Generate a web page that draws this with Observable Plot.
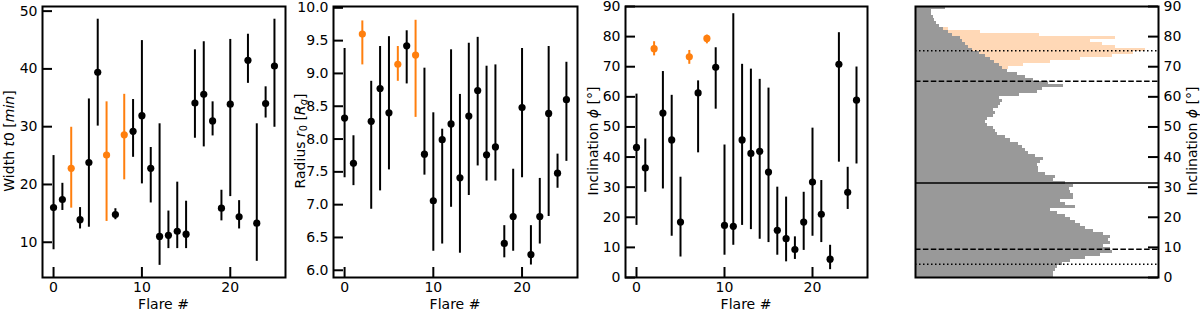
<!DOCTYPE html>
<html><head><meta charset="utf-8">
<script src="https://cdn.jsdelivr.net/npm/d3@7"></script>
<script src="https://cdn.jsdelivr.net/npm/@observablehq/plot@0.6"></script>
<style>
body{margin:0;background:#fff;}
#c{position:relative;width:1200px;height:311px;font-family:"DejaVu Sans",sans-serif;font-size:14px;color:#000;overflow:hidden;}
.p{position:absolute;top:0;}
.yl{position:absolute;white-space:nowrap;transform:translate(-50%,-50%) rotate(-90deg);font-size:14px;line-height:1;}
.xl{position:absolute;white-space:nowrap;transform:translate(-50%,-50%);font-size:14px;line-height:1;}
sub{font-size:70%;vertical-align:-0.25em;line-height:0;}
</style></head><body><div id="c"></div>
<script>
// ---- data ----
const flares = [0,1,2,3,4,5,6,7,8,9,10,11,12,13,14,15,16,17,18,19,20,21,22,23,24,25];
const highlighted = [2,6,8];

const widthVal = [16.0,17.4,22.8,13.9,23.8,39.4,25.1,14.8,28.6,29.2,31.9,22.8,11.0,11.2,11.9,11.4,34.1,35.6,31.0,15.9,33.9,14.4,41.5,13.3,34.0,40.5];
const widthLo  = [8.7,15.5,15.9,12.3,12.6,30.1,13.6,13.9,20.8,24.7,20.1,16.8,6.0,8.9,8.9,8.9,28.0,26.5,28.4,13.7,17.9,12.3,37.5,6.7,31.5,29.9];
const widthHi  = [25.0,20.2,29.9,16.0,34.8,48.6,34.3,15.8,35.6,34.7,44.9,26.4,30.5,15.4,20.4,17.1,43.3,44.7,34.3,19.0,45.1,17.2,46.0,30.5,36.9,48.6];

const radiusVal = [8.32,7.63,9.60,8.27,8.77,8.40,9.14,9.42,9.28,7.77,7.06,7.99,8.23,7.41,8.35,8.74,7.76,7.88,6.41,6.82,8.48,6.24,6.82,8.39,7.48,8.60];
const radiusLo  = [7.41,7.29,9.13,6.93,7.21,7.53,8.88,8.84,8.33,7.45,6.29,6.40,6.96,6.26,7.14,7.59,7.36,7.36,6.19,6.29,7.41,6.08,6.40,6.82,7.25,7.66];
const radiusHi  = [9.38,8.05,9.80,8.88,9.41,9.56,9.41,9.65,9.81,9.08,8.40,8.15,9.36,8.68,9.46,9.55,9.11,9.13,6.68,7.54,9.38,6.68,7.40,9.41,7.77,9.17];

const inclVal = [43.2,36.4,76.0,54.6,45.7,18.4,73.3,61.3,79.4,69.8,17.3,17.0,45.7,41.2,41.9,35.0,15.7,12.9,9.3,18.4,31.7,21.0,6.1,70.8,28.3,58.9];
const inclLo  = [17.3,28.3,73.6,29.4,13.7,6.8,70.8,41.4,77.6,55.9,7.4,10.7,17.3,15.9,12.7,11.6,7.4,5.2,6.0,9.0,13.7,11.6,2.6,38.3,22.6,37.7];
const inclHi  = [60.9,46.0,78.3,68.4,60.5,33.3,75.4,65.3,80.5,76.3,44.0,87.6,70.8,69.2,65.8,62.9,30.0,26.7,13.5,28.3,49.6,32.2,10.7,81.3,36.6,69.9];

// histogram of inclination (1-degree bins starting at 0), arbitrary length units
const grayCounts = [138,138,140,142,147,155,170,185,197,195,
                    188,195,193,195,188,178,170,165,160,155,
                    150,142,135,160,150,145,158,158,155,154,
                    158,150,138,140,130,123,123,122,125,128,
                    120,113,110,107,103,95,90,82,80,78,
                    72,70,72,78,80,78,83,85,87,84,
                    104,122,127,148,133,118,110,102,92,87,
                    84,79,75,70,64,57,53,50,47,45,
                    37,33,28,24,21,19,18,16,16,30];
const orangeBins   = [68,69,70,71,72,73,74,75,76,77,78,79,80,81,82];
const orangeCounts = [80,93,108,135,165,197,218,230,200,187,175,200,124,65,33];

const solidLines = [31.4];
const dashedLines = [9.4, 65.2];
const dottedLines = [4.4, 75.3];

const xTicks = [0,10,20];
const widthTicks = [10,20,30,40,50];
const radiusTicks = [6.0,6.5,7.0,7.5,8.0,8.5,9.0,9.5,10.0];
const inclTicks = [0,10,20,30,40,50,60,70,80,90];

const ORANGE = "#ff7f0e";
const PEACH = "#ffd8b6";
const GRAY = "#999999";

const H = 311, MT = 6, MB = 34;
const container = document.getElementById("c");
const style = {fontFamily: "DejaVu Sans", fontSize: "14px", color: "#000", background: "transparent", overflow: "visible"};

function place(el, left) {
  const w = document.createElement("div");
  w.className = "p"; w.style.left = left + "px";
  w.appendChild(el); container.appendChild(w);
}
function label(html, x, y, rotated) {
  const d = document.createElement("div");
  d.className = rotated ? "yl" : "xl";
  d.style.left = x + "px"; d.style.top = y + "px";
  d.innerHTML = html; container.appendChild(d);
}

function errPanel(vals, lo, hi, yDomain, yTicks, yFmt, left, width, ml, mr) {
  const rows = flares.map((f, i) => ({f, v: vals[i], lo: lo[i], hi: hi[i], hl: highlighted.includes(f)}));
  const black = rows.filter(d => !d.hl), orange = rows.filter(d => d.hl);
  const xd = [-1.25, 26.25];
  const fw = width - ml - mr, fh = H - MT - MB;
  const tx = (xd[1] - xd[0]) * 10 / fw;
  const ty = (yDomain[1] - yDomain[0]) * 10 / fh;
  const p = Plot.plot({
    width, height: H, marginLeft: ml, marginRight: mr, marginTop: MT, marginBottom: MB,
    style,
    x: {domain: xd, label: null},
    y: {domain: yDomain, label: null},
    marks: [
      Plot.ruleX(black, {x: "f", y1: "lo", y2: "hi", stroke: "#000", strokeWidth: 2}),
      Plot.dot(black, {x: "f", y: "v", r: 3.6, fill: "#000", stroke: null}),
      Plot.ruleX(orange, {x: "f", y1: "lo", y2: "hi", stroke: ORANGE, strokeWidth: 2}),
      Plot.dot(orange, {x: "f", y: "v", r: 3.6, fill: ORANGE, stroke: null}),
      Plot.ruleY(yTicks, {y: d => d, x1: xd[0], x2: xd[0] + tx, stroke: "#000", strokeWidth: 2}),
      Plot.ruleX(xTicks, {x: d => d, y1: yDomain[0], y2: yDomain[0] + ty, stroke: "#000", strokeWidth: 2}),
      Plot.axisY(yTicks, {tickSize: 0, tickPadding: 5, tickFormat: yFmt, label: null}),
      Plot.axisX(xTicks, {tickSize: 0, tickPadding: 5, label: null}),
      Plot.frame({stroke: "#000", strokeWidth: 2})
    ]
  });
  place(p, left);
}

errPanel(widthVal, widthLo, widthHi, [3.9, 50.8], widthTicks, d => String(d), 0, 300, 42, 15);
errPanel(radiusVal, radiusLo, radiusHi, [5.89, 10.02], radiusTicks, d3.format(".1f"), 295, 295, 38, 13);
errPanel(inclVal, inclLo, inclHi, [0, 90], inclTicks, d => String(d), 590, 290, 35, 13);

// histogram panel
(function () {
  const width = 300, ml = 15, mr = 42;
  const xd = [0, 243];
  const fw = width - ml - mr;
  const tx = (xd[1] - xd[0]) * 10 / fw;
  const gray = grayCounts.map((c, i) => ({b: i, c}));
  const orng = orangeBins.map((b, i) => ({b, c: orangeCounts[i]}));
  const p = Plot.plot({
    width, height: H, marginLeft: ml, marginRight: mr, marginTop: MT, marginBottom: MB,
    style,
    x: {domain: xd, axis: null},
    y: {domain: [0, 90], label: null},
    marks: [
      Plot.rectX(orng, {y1: "b", y2: d => d.b + 1, x1: 0, x2: "c", fill: PEACH, shapeRendering: "crispEdges"}),
      Plot.rectX(gray, {y1: "b", y2: d => d.b + 1, x1: 0, x2: "c", fill: GRAY, shapeRendering: "crispEdges"}),
      Plot.ruleY(solidLines, {y: d => d, stroke: "#000", strokeWidth: 1.5}),
      Plot.ruleY(dashedLines, {y: d => d, stroke: "#000", strokeWidth: 1.5, strokeDasharray: "5.5,2.4"}),
      Plot.ruleY(dottedLines, {y: d => d, stroke: "#000", strokeWidth: 1.5, strokeDasharray: "1.5,2.5"}),
      Plot.ruleY(inclTicks, {y: d => d, x1: xd[1] - tx, x2: xd[1], stroke: "#000", strokeWidth: 2}),
      Plot.axisY(inclTicks, {anchor: "right", tickSize: 0, tickPadding: 5, label: null}),
      Plot.frame({stroke: "#000", strokeWidth: 2})
    ]
  });
  place(p, 900);
})();

// axis labels
label("Width <i>t</i>0 [<i>min</i>]", 9, 141, true);
label("Radius <i>r</i><sub>0</sub> [<i>R</i><sub><i>g</i></sub>]", 300, 141, true);
label("Inclination <i>ϕ</i> [°]", 593, 141, true);
label("Inclination <i>ϕ</i> [°]", 1192, 141, true);
label("Flare #", 163.5, 304, false);
label("Flare #", 455, 304, false);
label("Flare #", 746, 304, false);
</script></body></html>
